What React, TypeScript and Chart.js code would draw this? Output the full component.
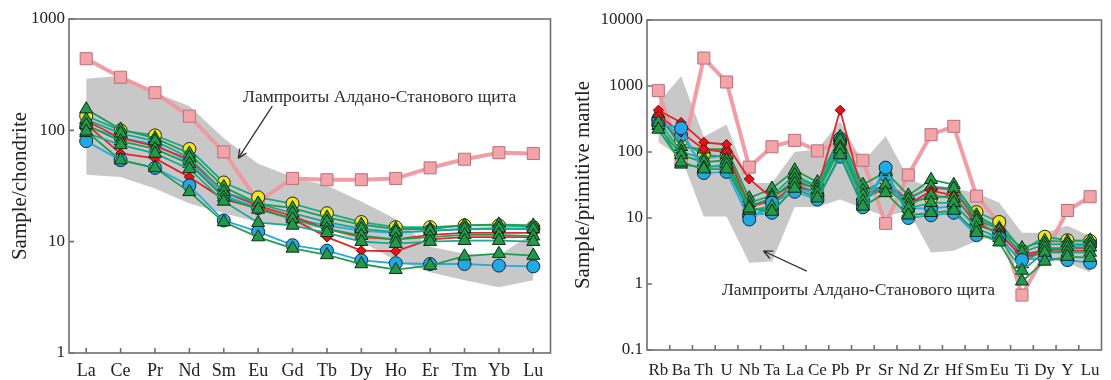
import React, { useEffect, useRef } from 'react';
import { Chart, registerables } from 'chart.js';
Chart.register(...registerables);

// ---------- Panel 1: REE / chondrite ----------
const reeLabels = ['La', 'Ce', 'Pr', 'Nd', 'Sm', 'Eu', 'Gd', 'Tb', 'Dy', 'Ho', 'Er', 'Tm', 'Yb', 'Lu'];
const reeTicks = [1, 10, 100, 1000];
const reeBandUpper = [290, 310, 218, 165, 85, 50, 38, 32, 23, 16, 9, 7.8, 7.5, 12];
const reeBandLower = [40, 38, 30, 22, 18, 15, 14, 13, 10, 6.8, 5.3, 4.5, 3.9, 4.5];
const reePink = [440, 300, 218, 134, 64, 23, 37, 36, 36, 37, 46, 55, 63, 62];
const reeRed1 = [113, 62, 56, 38, 24, 20, 16, 11, 8.3, 8.2, 10.5, 11, 11, 11];
const reeRed2 = [122, 85, 72, 55, 28, 21, 17, 13, 11, 10.5, 11.5, 12, 12, 12];
const reeBlueA = [80, 54, 46, 32, 15.5, 12.3, 9.3, 8.3, 6.8, 6.4, 6.3, 6.3, 6.1, 6.0];
const reeBlue2 = [108, 86, 75, 52, 26, 20, 16, 14, 12.5, 12, 12.5, 13, 13, 13];
const reeYellow = [135, 100, 90, 68, 34, 25, 22, 18, 15, 13.5, 13.5, 14, 14, 13.5];
const reeGreenA = [98, 54, 46, 28, 15, 11, 8.7, 7.6, 6.3, 5.6, 6.1, 7.4, 7.8, 7.5];
const reeGreen1 = [155, 102, 85, 62, 31, 22, 20, 16.5, 14.2, 13, 13, 14, 14.3, 14];
const reeGreen2 = [125, 94, 80, 57, 28, 22, 18, 15, 13, 12.2, 12.5, 13, 13.2, 13];
const reeGreen3 = [112, 80, 68, 50, 25, 19.5, 16, 13, 11.3, 10.5, 11, 11.5, 11.5, 11.2];
const reeGreen4 = [95, 74, 62, 45, 23, 14.8, 14, 12, 10, 9.6, 10, 10.2, 10.2, 10];

// ---------- Panel 2: trace elements / primitive mantle ----------
const teLabels = ['Rb', 'Ba', 'Th', 'U', 'Nb', 'Ta', 'La', 'Ce', 'Pb', 'Pr', 'Sr', 'Nd', 'Zr', 'Hf', 'Sm', 'Eu', 'Ti', 'Dy', 'Y', 'Lu'];
const teTicks = [0.1, 1, 10, 100, 1000, 10000];
const teBandUpper = [560, 1400, 170, 260, 34, 34, 100, 110, 290, 70, 175, 40, 28, 28, 24, 17, 6, 6, 7.6, 5.3];
const teBandLower = [140, 83, 10.5, 10.5, 2.1, 2.2, 14.7, 14.7, 19, 14, 10.5, 13, 3.0, 3.2, 4.5, 5.5, 2.5, 2.4, 2.1, 1.5];
const tePink = [850, 78, 2650, 1150, 59, 120, 150, 104, 140, 75, 8.3, 45, 183, 245, 21.5, 8.3, 0.68, 2.8, 13, 21];
const teRed1 = [350, 200, 110, 100, 15, 18, 30, 25, 120, 20, 28, 16, 26, 22, 8, 6, 2.5, 3, 3.2, 3.2];
const teRed2 = [430, 280, 140, 130, 39, 20, 35, 28, 430, 22, 30, 20, 29, 27, 9, 7, 2.8, 3.2, 3.5, 3.5];
const teBlueA = [260, 230, 48, 50, 9.5, 17, 25, 19, 85, 14.5, 58, 10, 11, 12, 5.5, 5, 2.3, 2.5, 2.3, 2.1];
const teBlue2 = [300, 180, 60, 60, 11, 12, 30, 22, 160, 18, 45, 14, 14, 15, 8, 6, 2.6, 3.2, 3.6, 4];
const teYellow = [310, 150, 90, 85, 10.7, 14, 40, 30, 140, 25, 38, 18, 20, 22, 12.3, 8.7, 3.2, 5.2, 4.6, 4.5];
const teGreenA = [220, 70, 55, 55, 14, 12.5, 28, 20, 90, 15, 24, 11, 12, 13, 6, 4.3, 1.1, 2.2, 2.6, 2.5];
const teGreen1 = [380, 120, 110, 110, 20, 28, 53, 35, 170, 32, 50, 22, 38, 32, 11, 7, 3.5, 4.5, 4.4, 4.6];
const teGreen2 = [300, 100, 80, 90, 17, 22, 45, 30, 150, 26, 30, 19, 30, 28, 10, 6.5, 3, 4, 4, 4];
const teGreen3 = [250, 90, 70, 75, 15, 20, 38, 27, 120, 22, 28, 16, 22, 20, 9, 5.5, 2, 3.5, 3.5, 3.6];
const teGreen4 = [280, 65, 58, 65, 13, 15, 33, 24, 110, 18, 32, 14, 17, 17, 7, 5, 1.6, 3, 3, 3];

const annotationText = 'Лампроиты Алдано-Станового щита';

// ---------- styles ----------
const FONT = 'Liberation Serif';
const BAND = '#c8c8c8';
const PINK_LINE = 'rgba(240,152,160,0.95)';
const PINK_FILL = '#f3a3aa';
const PINK_EDGE = '#b97077';
const RED_LINE = '#e3262b';
const RED_FILL = '#e0141c';
const BLUE_LINE = '#2aa8e0';
const BLUE_FILL = '#22a8e3';
const YELLOW_FILL = '#f4e619';
const GREEN_FILL = '#25994a';
const GREEN_LINE = '#1f9e4e';
const TEAL_LINE = '#18a88c';

type Style = { line: string; fill: string; edge: string; shape: string; r: number; w: number };
const sPink: Style = { line: PINK_LINE, fill: PINK_FILL, edge: PINK_EDGE, shape: 'rect', r: 8.5, w: 4 };
const sRed: Style = { line: RED_LINE, fill: RED_FILL, edge: '#7a0000', shape: 'rectRot', r: 5, w: 1.8 };
const sBlue: Style = { line: BLUE_LINE, fill: BLUE_FILL, edge: '#0d2a3a', shape: 'circle', r: 6.5, w: 1.8 };
const sYellow: Style = { line: TEAL_LINE, fill: YELLOW_FILL, edge: '#222', shape: 'circle', r: 6.5, w: 1.8 };
const sGreen: Style = { line: GREEN_LINE, fill: GREEN_FILL, edge: '#0b2a12', shape: 'triangle', r: 7.5, w: 1.8 };
const sTeal: Style = { line: TEAL_LINE, fill: GREEN_FILL, edge: '#0b2a12', shape: 'triangle', r: 7.5, w: 1.8 };

function buildDatasets(upper: number[], lower: number[], series: [string, number[], Style][]) {
  const ds: any[] = [
    { label: 'band-up', data: upper, fill: '+1', backgroundColor: BAND, borderWidth: 0, pointRadius: 0, order: 100 },
    { label: 'band-lo', data: lower, fill: false, backgroundColor: BAND, borderWidth: 0, pointRadius: 0, order: 101 },
  ];
  series.forEach(([name, data, s], i) => {
    ds.push({
      label: name,
      data,
      fill: false,
      borderColor: s.line,
      borderWidth: s.w,
      backgroundColor: s.fill,
      pointBackgroundColor: s.fill,
      pointBorderColor: s.edge,
      pointBorderWidth: 1,
      pointStyle: s.shape,
      pointRadius: s.r,
      pointHoverRadius: s.r,
      tension: 0,
      order: series.length - i,
    });
  });
  return ds;
}

type Annot = { text: [number, number]; tail: [number, number]; head: [number, number] };

function framePlugin(between: boolean, tickVals: number[], annot: Annot) {
  return {
    id: 'frameTicks',
    afterDraw(chart: any) {
      const { ctx, chartArea } = chart;
      const { left, right, top, bottom } = chartArea;
      const xs = chart.scales.x;
      const ys = chart.scales.y;
      ctx.save();
      ctx.strokeStyle = '#6f6f6f';
      ctx.lineWidth = 1.6;
      ctx.strokeRect(left, top, right - left, bottom - top);
      ctx.beginPath();
      const n = xs.getLabels().length;
      if (between) {
        for (let i = 0; i < n - 1; i++) {
          const px = (xs.getPixelForValue(i) + xs.getPixelForValue(i + 1)) / 2;
          ctx.moveTo(px, bottom);
          ctx.lineTo(px, bottom - 5);
        }
      } else {
        for (let i = 0; i < n; i++) {
          const px = xs.getPixelForValue(i);
          ctx.moveTo(px, bottom);
          ctx.lineTo(px, bottom - 5);
        }
      }
      tickVals.forEach((v) => {
        const py = ys.getPixelForValue(v);
        ctx.moveTo(left, py);
        ctx.lineTo(left + 5, py);
      });
      ctx.stroke();

      // annotation
      const tx = xs.getPixelForValue(annot.text[0]);
      const ty = ys.getPixelForValue(annot.text[1]);
      ctx.fillStyle = '#2b2b2b';
      ctx.font = `17.5px "${FONT}"`;
      ctx.textAlign = 'left';
      ctx.textBaseline = 'middle';
      ctx.fillText(annotationText, tx, ty);

      const x1 = xs.getPixelForValue(annot.tail[0]);
      const y1 = ys.getPixelForValue(annot.tail[1]);
      const x2 = xs.getPixelForValue(annot.head[0]);
      const y2 = ys.getPixelForValue(annot.head[1]);
      ctx.strokeStyle = '#333';
      ctx.lineWidth = 1.3;
      ctx.beginPath();
      ctx.moveTo(x1, y1);
      ctx.lineTo(x2, y2);
      const ang = Math.atan2(y2 - y1, x2 - x1);
      const hl = 10;
      ctx.moveTo(x2, y2);
      ctx.lineTo(x2 - hl * Math.cos(ang - 0.42), y2 - hl * Math.sin(ang - 0.42));
      ctx.moveTo(x2, y2);
      ctx.lineTo(x2 - hl * Math.cos(ang + 0.42), y2 - hl * Math.sin(ang + 0.42));
      ctx.stroke();
      ctx.restore();
    },
  };
}

function makeConfig(opts: {
  labels: string[];
  datasets: any[];
  min: number;
  max: number;
  ticks: number[];
  title: string;
  yWidth: number;
  xHeight: number;
  padding: { left: number; right: number; top: number; bottom: number };
  titlePad: number;
  xPad: number;
  xFont: number;
  between: boolean;
  annot: Annot;
}): any {
  return {
    type: 'line',
    data: { labels: opts.labels, datasets: opts.datasets },
    options: {
      responsive: false,
      animation: false,
      devicePixelRatio: 1,
      layout: { padding: opts.padding },
      plugins: { legend: { display: false }, tooltip: { enabled: false } },
      scales: {
        x: {
          type: 'category',
          offset: true,
          grid: { display: false, drawTicks: false },
          border: { display: false },
          ticks: { color: '#222', font: { family: FONT, size: opts.xFont }, padding: opts.xPad, maxRotation: 0, autoSkip: false },
          afterFit: (s: any) => {
            s.height = opts.xHeight;
          },
        },
        y: {
          type: 'logarithmic',
          min: opts.min,
          max: opts.max,
          afterBuildTicks: (s: any) => {
            s.ticks = opts.ticks.map((v) => ({ value: v }));
          },
          grid: { display: false, drawTicks: false },
          border: { display: false },
          ticks: {
            color: '#222',
            font: { family: FONT, size: 17 },
            padding: 4,
            callback: (v: any) => String(v),
          },
          title: {
            display: true,
            text: opts.title,
            color: '#222',
            font: { family: FONT, size: 21 },
            padding: { top: opts.titlePad, bottom: 0 },
          },
          afterFit: (s: any) => {
            s.width = opts.yWidth;
          },
        },
      },
    },
    plugins: [framePlugin(opts.between, opts.ticks, opts.annot)],
  };
}

function ChartCanvas({ config, left, width }: { config: () => any; left: number; width: number }) {
  const ref = useRef<HTMLCanvasElement>(null);
  useEffect(() => {
    const chart = new Chart(ref.current as HTMLCanvasElement, config());
    return () => chart.destroy();
  }, []);
  return (
    <canvas
      ref={ref}
      width={width}
      height={380}
      style={{ position: 'absolute', left, top: 0, width, height: 380, display: 'block' }}
    />
  );
}

export default function App() {
  const reeConfig = () =>
    makeConfig({
      labels: reeLabels,
      datasets: buildDatasets(reeBandUpper, reeBandLower, [
        ['Pink', reePink, sPink],
        ['Yellow', reeYellow, sYellow],
        ['Blue2', reeBlue2, sBlue],
        ['Green1', reeGreen1, sGreen],
        ['Red2', reeRed2, sRed],
        ['Green2', reeGreen2, sTeal],
        ['Red1', reeRed1, sRed],
        ['Green3', reeGreen3, sGreen],
        ['BlueA', reeBlueA, sBlue],
        ['Green4', reeGreen4, sTeal],
        ['GreenA', reeGreenA, sGreen],
      ]),
      min: 1,
      max: 1000,
      ticks: reeTicks,
      title: 'Sample/chondrite',
      yWidth: 69,
      xHeight: 27,
      padding: { left: 0, right: 8, top: 19, bottom: 0 },
      titlePad: 8,
      xPad: 7,
      xFont: 18,
      between: false,
      annot: { text: [4.56, 199], tail: [5.41, 165], head: [4.42, 56] },
    });
  const teConfig = () =>
    makeConfig({
      labels: teLabels,
      datasets: buildDatasets(teBandUpper, teBandLower, [
        ['Pink', tePink, sPink],
        ['Yellow', teYellow, sYellow],
        ['Blue2', teBlue2, sBlue],
        ['Green1', teGreen1, sGreen],
        ['Red2', teRed2, sRed],
        ['Green2', teGreen2, sTeal],
        ['Red1', teRed1, sRed],
        ['Green3', teGreen3, sGreen],
        ['BlueA', teBlueA, sBlue],
        ['Green4', teGreen4, sTeal],
        ['GreenA', teGreenA, sGreen],
      ]),
      min: 0.1,
      max: 10000,
      ticks: teTicks,
      title: 'Sample/primitive mantle',
      yWidth: 82,
      xHeight: 30,
      padding: { left: 0, right: 3, top: 20, bottom: 0 },
      titlePad: 6,
      xPad: 10,
      xFont: 17,
      between: true,
      annot: { text: [2.8, 0.81], tail: [6.53, 1.57], head: [4.62, 3.16] },
    });
  return (
    <div style={{ position: 'fixed', left: 0, top: 0, width: 1111, height: 380, background: '#fff' }}>
      <ChartCanvas config={reeConfig} left={0} width={560} />
      <ChartCanvas config={teConfig} left={565} width={546} />
    </div>
  );
}
